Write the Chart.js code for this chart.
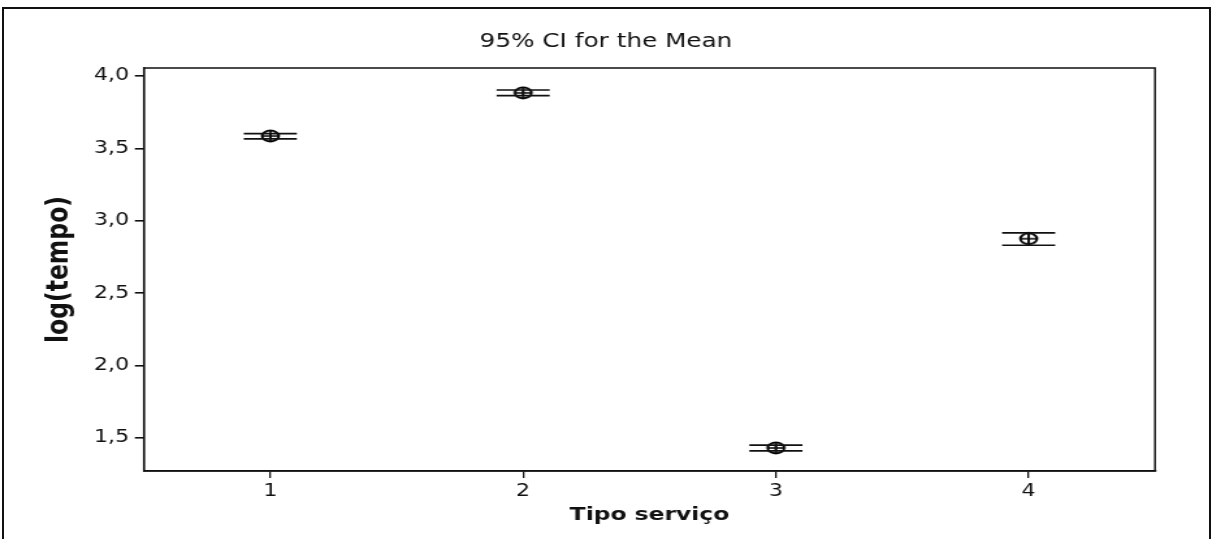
<!DOCTYPE html>
<html>
<head>
<meta charset="utf-8">
<script src="https://cdn.jsdelivr.net/npm/chart.js@4.4.1/dist/chart.umd.min.js"></script>
<style>
  html, body { margin: 0; padding: 0; background: #fff; }
  #wrap { position: relative; width: 1212px; height: 539px; overflow: hidden; }
  #frame { position: absolute; left: 2px; top: 7px; width: 1209px; height: 600px;
           border: 2px solid #111; box-sizing: border-box; }
  /* the drawing is rendered narrow and widened, giving the broad lettering */
  canvas { position: absolute; left: 0; top: 0; transform: scaleX(1.3004); transform-origin: 0 0; }
</style>
</head>
<body>
<div id="wrap">
  <div id="frame"></div>
  <canvas id="c" width="932" height="539"></canvas>
</div>
<script>
// Service types on the x axis
const categories = [1, 2, 3, 4];
// Mean of log(tempo) per service type, with the 95% confidence bounds
const meanValues  = [3.585, 3.883, 1.431, 2.876];
const lowerValues = [3.565, 3.864, 1.411, 2.831];
const upperValues = [3.602, 3.903, 1.450, 2.917];
// Y axis tick values
const yTicks = [1.5, 2.0, 2.5, 3.0, 3.5, 4.0];

const CAP = 0.105; // half width of the interval bars, in x units

// Interval bars: upper cap, lower cap and the vertical stem, separated by gaps
const intervalData = [];
categories.forEach((c, i) => {
  intervalData.push({x: c - CAP, y: upperValues[i]}, {x: c + CAP, y: upperValues[i]}, {x: c, y: null});
  intervalData.push({x: c - CAP, y: lowerValues[i]}, {x: c + CAP, y: lowerValues[i]}, {x: c, y: null});
  intervalData.push({x: c, y: lowerValues[i]}, {x: c, y: upperValues[i]}, {x: c, y: null});
});
const meanData = categories.map((c, i) => ({x: c, y: meanValues[i]}));

// Mean symbol: a circle with a cross through it
function meanSymbol() {
  const w = 18, h = 16;
  const cv = document.createElement('canvas');
  cv.width = w; cv.height = h;
  const g = cv.getContext('2d');
  g.strokeStyle = '#000';
  g.lineWidth = 2;
  g.beginPath();
  g.ellipse(w / 2, h / 2, 6.4, 5.4, 0, 0, Math.PI * 2);
  g.stroke();
  g.lineWidth = 1.6;
  g.beginPath();
  g.moveTo(w / 2 - 6.5, h / 2); g.lineTo(w / 2 + 6.5, h / 2);
  g.moveTo(w / 2, h / 2 - 6); g.lineTo(w / 2, h / 2 + 6);
  g.stroke();
  return cv;
}

// Box around the plotting area
const plotBox = {
  id: 'plotBox',
  afterDraw(chart) {
    const {ctx, chartArea: a} = chart;
    ctx.save();
    ctx.strokeStyle = '#111';
    ctx.lineWidth = 1.5;
    ctx.strokeRect(a.left, a.top, a.right - a.left, a.bottom - a.top);
    ctx.restore();
  }
};

const fmt = v => v.toFixed(1).replace('.', ',');
const tickFont = { family: '"DejaVu Sans", Verdana, sans-serif', size: 17 };

new Chart(document.getElementById('c'), {
  type: 'scatter',
  data: {
    datasets: [
      {
        label: 'IC 95%',
        data: intervalData,
        showLine: true,
        spanGaps: false,
        borderColor: '#111',
        borderWidth: 1.7,
        pointRadius: 0,
        pointHoverRadius: 0
      },
      {
        label: 'Média',
        data: meanData,
        pointStyle: meanSymbol(),
        pointRadius: 8,
        showLine: false
      }
    ]
  },
  options: {
    responsive: false,
    animation: false,
    events: [],
    layout: { padding: 0 },
    plugins: {
      legend: { display: false },
      tooltip: { enabled: false },
      title: {
        display: true,
        text: '95% CI for the Mean',
        color: '#111',
        font: { family: '"DejaVu Sans", Verdana, sans-serif', size: 19, weight: 'normal' },
        padding: { top: 31, bottom: 14.2 }
      }
    },
    scales: {
      x: {
        type: 'linear',
        min: 0.5,
        max: 4.5,
        afterBuildTicks: s => { s.ticks = categories.map(v => ({value: v})); },
        afterFit: s => { s.height = 68; },
        grid: { drawOnChartArea: false, color: '#111', tickLength: 7, lineWidth: 1.3 },
        border: { display: true, color: '#111', width: 1.5 },
        ticks: {
          color: '#111',
          padding: 3,
          font: tickFont,
          callback: v => String(v)
        },
        title: {
          display: true,
          text: 'Tipo serviço',
          color: '#111',
          font: { family: '"DejaVu Sans", Verdana, sans-serif', size: 18, weight: 'bold' },
          padding: { top: 0, bottom: 13 }
        }
      },
      y: {
        min: 1.272,
        max: 4.055,
        afterBuildTicks: s => { s.ticks = yTicks.map(v => ({value: v})); },
        afterFit: s => { s.width = 110.7; },
        grid: { drawOnChartArea: false, color: '#111', tickLength: 7, lineWidth: 1.6 },
        border: { display: true, color: '#111', width: 1.3 },
        ticks: {
          color: '#111',
          padding: 4.5,
          font: tickFont,
          callback: v => fmt(v)
        },
        title: {
          display: true,
          text: 'log(tempo)',
          color: '#111',
          font: { family: '"DejaVu Sans", Verdana, sans-serif', size: 23.5, weight: 'bold' },
          padding: { top: 32, bottom: 0 }
        }
      },
      // empty margin on the right of the plotting area
      right: {
        position: 'right',
        display: true,
        afterFit: s => { s.width = 43.8; },
        grid: { display: false },
        border: { display: false },
        ticks: { display: false }
      }
    }
  },
  plugins: [plotBox]
});
</script>
</body>
</html>
